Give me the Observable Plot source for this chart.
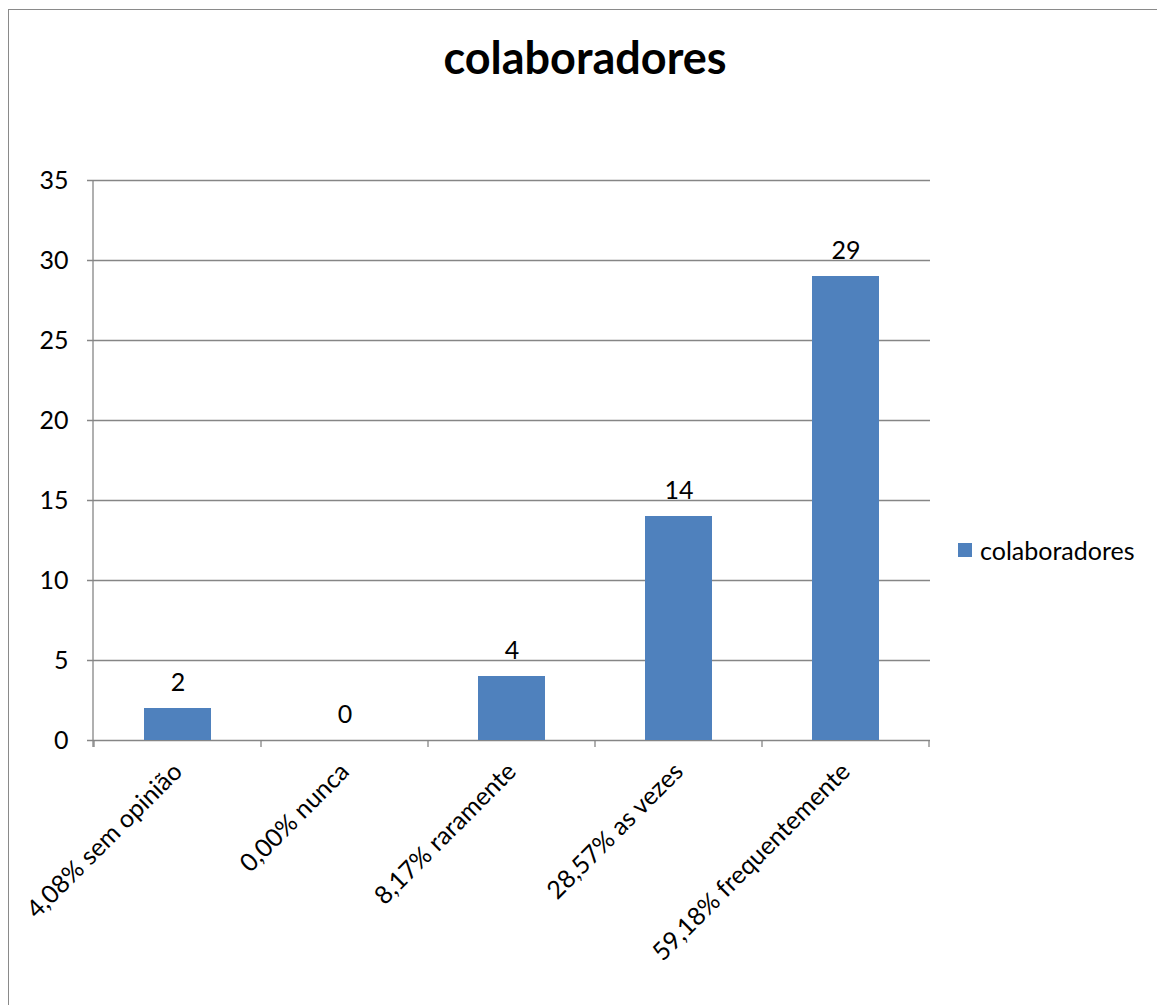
<!DOCTYPE html>
<html>
<head>
<meta charset="utf-8">
<script src="https://cdn.jsdelivr.net/npm/d3@7"></script>
<script src="https://cdn.jsdelivr.net/npm/@observablehq/plot@0.6"></script>
<style>
  html, body { margin: 0; padding: 0; background: #fff; }
  #wrap { position: relative; width: 1157px; height: 1005px; overflow: hidden; font-family: Lato, "Open Sans", sans-serif; }
  #frame { position: absolute; left: 8px; top: 9px; width: 1200px; height: 1100px; border: 1px solid #8a8a8a; box-sizing: border-box; }
  #title { position: absolute; left: 0; width: 1170px; top: 30px; text-align: center; font-weight: 700; font-size: 45px; color: #000; }
  #legend { position: absolute; left: 958px; top: 535px; font-size: 25px; color: #000; display: flex; align-items: center; }
  #legend .sw { width: 14px; height: 14px; background: #4F81BD; margin-right: 8px; }
  #chart { position: absolute; left: 0; top: 0; }
</style>
</head>
<body>
<div id="wrap">
  <div id="frame"></div>
  <div id="chart"></div>
  <div id="title"></div>
  <div id="legend"><div class="sw"></div><span id="legendLabel"></span></div>
</div>
<script>
const categories = ["4,08% sem opinião", "0,00% nunca", "8,17% raramente", "28,57% as vezes", "59,18% frequentemente"];
const values = [2, 0, 4, 14, 29];
const yTicks = [0, 5, 10, 15, 20, 25, 30, 35];
const seriesName = "colaboradores";
const titleText = "colaboradores";

const data = categories.map((c, i) => ({category: c, value: values[i]}));

document.getElementById("title").textContent = titleText;
document.getElementById("legendLabel").textContent = seriesName;

const grey = "#868686";
const padInner = 0.6, padOuter = 0.3;

// axis lines + band-boundary tick marks, computed from the scales
function axisLines(index, scales, values, dims) {
  const x = scales.x;
  const step = x.step();
  const bw = x.bandwidth();
  const y0 = scales.y(0);
  const yTop = scales.y(yTicks[yTicks.length - 1]);
  const left = dims.marginLeft;
  const g = d3.create("svg:g").attr("stroke", grey).attr("stroke-width", 1.3).attr("fill", "none");
  const bounds = categories.map(c => x(c) - (step - bw) / 2);
  bounds.push(x(categories[categories.length - 1]) + bw + (step - bw) / 2);
  for (const b of bounds) {
    g.append("line").attr("x1", b).attr("x2", b).attr("y1", y0).attr("y2", y0 + 7);
  }
  g.append("line").attr("x1", left).attr("x2", left).attr("y1", yTop).attr("y2", y0 + 7);
  return g.node();
}

const plot = Plot.plot({
  width: 1157,
  height: 1005,
  marginLeft: 93,
  marginRight: 227,
  marginTop: 180,
  marginBottom: 265,
  style: {fontFamily: "Lato, 'Open Sans', sans-serif", fontSize: "25px", color: "#000", background: "transparent"},
  x: {domain: categories, paddingInner: padInner, paddingOuter: padOuter, label: null},
  y: {domain: [0, 35], label: null},
  marks: [
    Plot.ruleY(yTicks, {stroke: grey, strokeWidth: 1.3, insetLeft: -6}),
    Plot.axisY({ticks: yTicks, tickSize: 0, tickPadding: 25, fontSize: 25, label: null, textAnchor: "end"}),
    Plot.barY(data, {x: "category", y: "value", fill: "#4F81BD"}),
    Plot.text(data, {x: "category", y: "value", text: d => String(d.value), dy: -26, fontSize: 25, fill: "#000"}),
    Plot.axisX({tickSize: 0, tickRotate: -45, tickPadding: 27, fontSize: 25, label: null}),
    axisLines
  ]
});

document.getElementById("chart").appendChild(plot);
</script>
</body>
</html>
